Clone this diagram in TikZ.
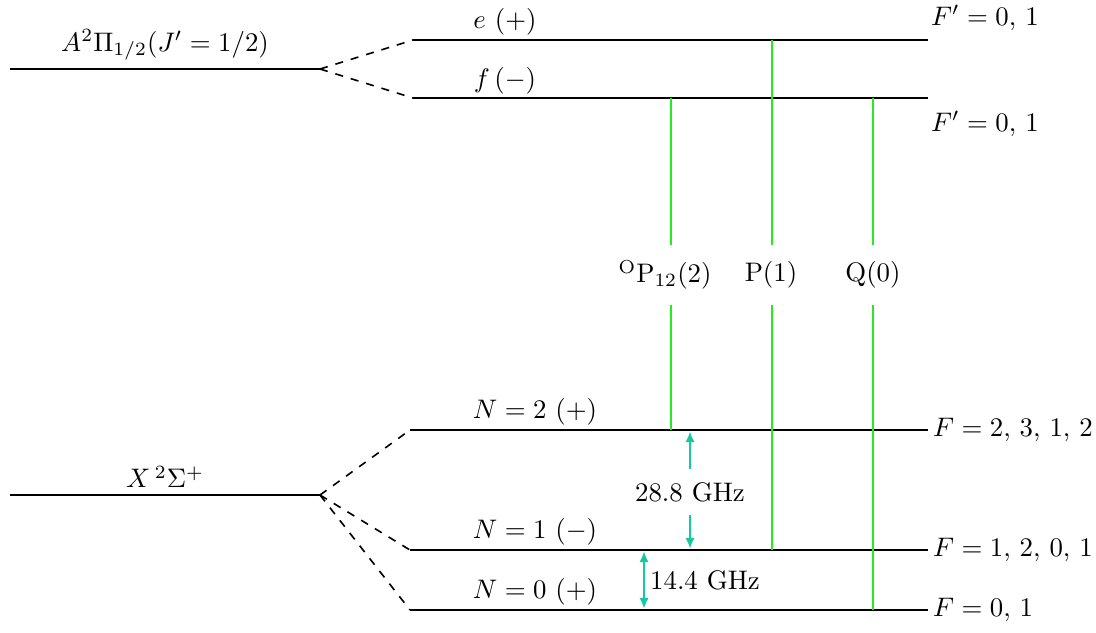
\documentclass[tikz,border=0pt]{standalone}
\usetikzlibrary{arrows.meta}
\definecolor{splitcol}{RGB}{20,200,160}
\definecolor{trans}{RGB}{40,235,30}
\tikzset{
  level/.style={line width=0.8pt, black},
  split/.style={line width=0.6pt, dashed, black},
  transline/.style={line width=0.6pt, trans},
  gaparrow/.style={line width=0.6pt, splitcol, {Latex[length=4pt,width=3.5pt]}-{Latex[length=4pt,width=3.5pt]}},
  gaparrowone/.style={line width=0.6pt, splitcol, -{Latex[length=4pt,width=3.5pt]}},
  lbl/.style={inner sep=1pt, font=\fontsize{10}{12}\selectfont}
}
\begin{document}
\begin{tikzpicture}[x=0.373pt,y=-0.373pt]
\useasboundingbox (0,0) rectangle (1096,632);
% coordinates
\coordinate (aL) at (10,69);
\coordinate (aR) at (320,69);
\coordinate (eL) at (413,40);
\coordinate (eR) at (928,40);
\coordinate (fL) at (413,98);
\coordinate (fR) at (928,98);
\coordinate (xL) at (10,495);
\coordinate (xR) at (320,495);
\coordinate (n2L) at (410,430);
\coordinate (n2R) at (928,430);
\coordinate (n1L) at (410,550);
\coordinate (n1R) at (928,550);
\coordinate (n0L) at (410,610);
\coordinate (n0R) at (928,610);
% levels
\draw[level] (aL) -- (aR);
\draw[level] (eL) -- (eR);
\draw[level] (fL) -- (fR);
\draw[level] (xL) -- (xR);
\draw[level] (n2L) -- (n2R);
\draw[level] (n1L) -- (n1R);
\draw[level] (n0L) -- (n0R);
% splitting
\draw[split] (aR) -- (eL);
\draw[split] (aR) -- (fL);
\draw[split] (xR) -- (n2L);
\draw[split] (xR) -- (n1L);
\draw[split] (xR) -- (n0L);
% labels
\node[lbl] (la) at (165,45) {$A^2\Pi_{1/2}(J'=1/2)$};
\node[lbl] (le) at (505,22) {$e\ (+)$};
\node[lbl] (lf) at (505,81) {$f\,(-)$};
\node[lbl,anchor=west] (fp1) at (928,18) {$F'=0,\,1$};
\node[lbl,anchor=west] (fp2) at (928,124) {$F'=0,\,1$};
\node[lbl] (lx) at (165,477) {$X\,{}^2\Sigma^+$};
\node[lbl] (ln2) at (535,412) {$N=2\ (+)$};
\node[lbl] (ln1) at (535,532) {$N=1\ (-)$};
\node[lbl] (ln0) at (535,592) {$N=0\ (+)$};
\node[lbl,anchor=west] (f2) at (930,430) {$F=2,\,3,\,1,\,2$};
\node[lbl,anchor=west] (f1) at (930,550) {$F=1,\,2,\,0,\,1$};
\node[lbl,anchor=west] (f0) at (930,610) {$F=0,\,1$};
% transitions
\node[lbl] (tO) at (665,275) {${}^{\mathrm{O}}\mathrm{P}_{12}(2)$};
\node[lbl] (tP) at (771,275) {$\mathrm{P}(1)$};
\node[lbl] (tQ) at (873,275) {$\mathrm{Q}(0)$};
\coordinate (tOa) at (671,245);
\coordinate (tOb) at (671,305);
\coordinate (tPa) at (772,245);
\coordinate (tPb) at (772,305);
\coordinate (tQa) at (873,245);
\coordinate (tQb) at (873,305);
\draw[transline] (671,98) -- (tOa);
\draw[transline] (tOb) -- (671,430);
\draw[transline] (772,40) -- (tPa);
\draw[transline] (tPb) -- (772,550);
\draw[transline] (873,98) -- (tQa);
\draw[transline] (tQb) -- (873,610);
% splittings
\node[lbl] (g28) at (690,492) {28.8 GHz};
\draw[gaparrowone] (g28.north) ++(0,-10) -- (690,431.5);
\draw[gaparrowone] (g28.south) ++(0,10) -- (690,548.5);
\draw[gaparrow] (644,551.5) -- (644,608.5);
\node[lbl,anchor=west] (g14) at (647,580) {14.4 GHz};
\end{tikzpicture}
\end{document}
